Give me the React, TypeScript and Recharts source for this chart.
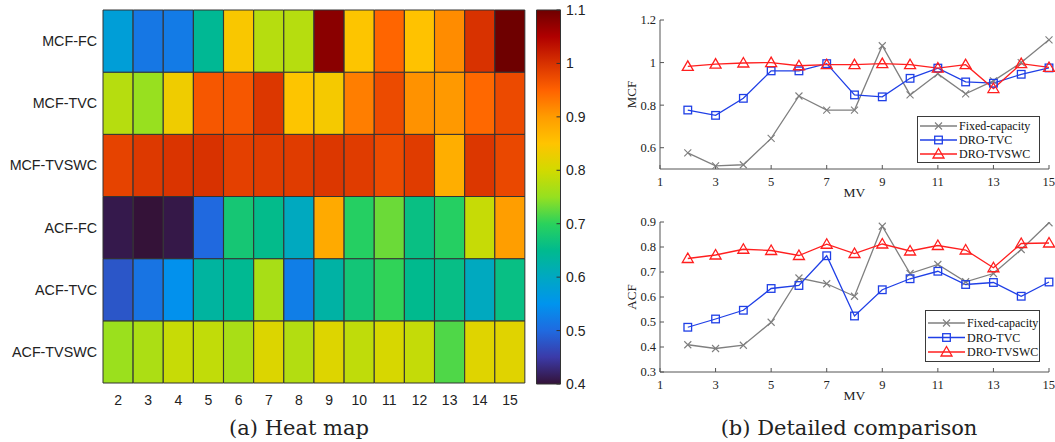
import React from 'react';
import { BarChart, Bar, Cell, XAxis, YAxis, LineChart, Line, Legend } from 'recharts';

// MV values (columns of the heat map, x of the line charts)
const mvValues = [2, 3, 4, 5, 6, 7, 8, 9, 10, 11, 12, 13, 14, 15];

// MCF
const mcfFixed = [0.576, 0.515, 0.52, 0.644, 0.843, 0.777, 0.777, 1.079, 0.848, 0.947, 0.853, 0.914, 1.0, 1.107];
const mcfTVC = [0.777, 0.752, 0.832, 0.961, 0.961, 0.995, 0.848, 0.839, 0.926, 0.974, 0.909, 0.903, 0.945, 0.975];
const mcfTVSWC = [0.982, 0.993, 0.998, 1.0, 0.985, 0.99, 0.99, 0.995, 0.99, 0.974, 0.99, 0.878, 0.995, 0.977];

// ACF
const acfFixed = [0.409, 0.394, 0.407, 0.499, 0.676, 0.653, 0.603, 0.883, 0.694, 0.73, 0.661, 0.694, 0.79, 0.897];
const acfTVC = [0.479, 0.512, 0.547, 0.634, 0.646, 0.765, 0.524, 0.629, 0.673, 0.703, 0.65, 0.658, 0.603, 0.66];
const acfTVSWC = [0.754, 0.768, 0.791, 0.786, 0.766, 0.811, 0.774, 0.812, 0.784, 0.806, 0.788, 0.717, 0.814, 0.816];

// heat map rows, top to bottom
const rowNames = ['MCF-FC', 'MCF-TVC', 'MCF-TVSWC', 'ACF-FC', 'ACF-TVC', 'ACF-TVSWC'];
const rowValues = [mcfFixed, mcfTVC, mcfTVSWC, acfFixed, acfTVC, acfTVSWC];

const colorLimits = [0.4, 1.1];
const colorTicks = [0.4, 0.5, 0.6, 0.7, 0.8, 0.9, 1.0, 1.1];

const xTicks = [1, 3, 5, 7, 9, 11, 13, 15];
const mcfTicks = [0.6, 0.8, 1, 1.2];
const acfTicks = [0.3, 0.4, 0.5, 0.6, 0.7, 0.8, 0.9];

const SERIES = [
  { key: 'fixed', name: 'Fixed-capacity', color: '#7f7f7f', marker: 'x' },
  { key: 'tvc', name: 'DRO-TVC', color: '#1f3fe6', marker: 'square' },
  { key: 'tvswc', name: 'DRO-TVSWC', color: '#ff1f1f', marker: 'triangle' },
];

// colour map sampled from the colour bar
const COLOR_STOPS: [number, string][] = [
  [0.4, '#341238'],
  [0.45, '#3b3aa8'],
  [0.5, '#1f6ae0'],
  [0.55, '#0094ee'],
  [0.6, '#00a8c2'],
  [0.65, '#00ba8e'],
  [0.7, '#2ad25c'],
  [0.75, '#96e020'],
  [0.8, '#d2da00'],
  [0.85, '#ffc400'],
  [0.9, '#ff9c00'],
  [0.95, '#ff6200'],
  [1.0, '#d83200'],
  [1.05, '#b00000'],
  [1.1, '#6e0000'],
];

function hexToRgb(h: string) {
  const n = parseInt(h.slice(1), 16);
  return [(n >> 16) & 255, (n >> 8) & 255, n & 255];
}

function colormap(v: number) {
  const c = Math.min(Math.max(v, COLOR_STOPS[0][0]), COLOR_STOPS[COLOR_STOPS.length - 1][0]);
  for (let i = 0; i < COLOR_STOPS.length - 1; i++) {
    const [a, ca] = COLOR_STOPS[i];
    const [b, cb] = COLOR_STOPS[i + 1];
    if (c <= b) {
      const t = (c - a) / (b - a);
      const A = hexToRgb(ca);
      const B = hexToRgb(cb);
      const m = A.map((x, k) => Math.round(x + (B[k] - x) * t));
      return `rgb(${m[0]},${m[1]},${m[2]})`;
    }
  }
  return COLOR_STOPS[COLOR_STOPS.length - 1][1];
}

const SANS = '"Liberation Sans", Arial, sans-serif';
const SERIF = '"Liberation Serif", "Times New Roman", serif';
const CAPTION = '"DejaVu Serif", serif';

// stacked unit cells, one per row
const heatData = mvValues.map((m) => {
  const row: Record<string, any> = { mv: String(m) };
  rowNames.forEach((_, r) => {
    row['u' + r] = 1;
  });
  return row;
});
const rowTicks = rowNames.map((_, i) => i + 0.5);

const colorbarData = [{ name: 'cb', range: colorLimits }];

const mcfData = mvValues.map((m, i) => ({ mv: m, fixed: mcfFixed[i], tvc: mcfTVC[i], tvswc: mcfTVSWC[i] }));
const acfData = mvValues.map((m, i) => ({ mv: m, fixed: acfFixed[i], tvc: acfTVC[i], tvswc: acfTVSWC[i] }));

function Marker({ cx, cy, kind, color }: { cx?: number; cy?: number; kind: string; color: string }) {
  if (cx == null || cy == null) return null;
  if (kind === 'x') {
    const s = 3.5;
    return (
      <path
        d={`M${cx - s},${cy - s}L${cx + s},${cy + s}M${cx - s},${cy + s}L${cx + s},${cy - s}`}
        stroke={color}
        strokeWidth={1.1}
        fill="none"
      />
    );
  }
  if (kind === 'square') {
    return <rect x={cx - 3.8} y={cy - 3.8} width={7.6} height={7.6} fill="none" stroke={color} strokeWidth={1.3} />;
  }
  return (
    <polygon
      points={`${cx},${cy - 5.5} ${cx - 5.5},${cy + 4} ${cx + 5.5},${cy + 4}`}
      fill="none"
      stroke={color}
      strokeWidth={1.3}
    />
  );
}

function LegendBox({ width, height, rowY }: { width: number; height: number; rowY: number[] }) {
  return (
    <svg width={width} height={height} style={{ display: 'block' }}>
      <rect x={0.5} y={0.5} width={width - 1} height={height - 1} fill="#fff" stroke="#3a3a3a" strokeWidth={1} />
      {SERIES.map((s, i) => (
        <g key={s.key}>
          <line x1={3} x2={40} y1={rowY[i]} y2={rowY[i]} stroke={s.color} strokeWidth={1.3} />
          <Marker cx={21.5} cy={rowY[i]} kind={s.marker} color={s.color} />
          <text x={42} y={rowY[i] + 4} fontSize={12} fontFamily={SERIF} fill="#111">
            {s.name}
          </text>
        </g>
      ))}
    </svg>
  );
}

interface PanelProps {
  data: any[];
  domain: [number, number];
  ticks: number[];
  yLabel: string;
  height: number;
  margin: { top: number; right: number; bottom: number; left: number };
  legend: { left: number; top: number; width: number; height: number; rowY: number[] };
}

function ComparisonPanel({ data, domain, ticks, yLabel, height, margin, legend }: PanelProps) {
  const tickStyle = { fill: '#222', fontSize: 12.5, fontFamily: SERIF };
  return (
    <LineChart width={455} height={height} data={data} margin={margin}>
      <XAxis
        xAxisId="b"
        dataKey="mv"
        type="number"
        domain={[1, 15]}
        ticks={xTicks}
        height={30}
        tickSize={-4}
        tickMargin={12}
        stroke="#555"
        tick={tickStyle}
        label={{ value: 'MV', position: 'insideBottom', offset: 2, fill: '#222', fontSize: 13.5, fontFamily: SERIF }}
      />
      <XAxis
        xAxisId="t"
        orientation="top"
        type="number"
        domain={[1, 15]}
        ticks={xTicks}
        height={0}
        tickSize={-4}
        tick={false}
        stroke="#555"
      />
      <YAxis
        yAxisId="l"
        type="number"
        domain={domain}
        ticks={ticks}
        width={60}
        tickSize={-4}
        tickMargin={8}
        stroke="#555"
        tick={tickStyle}
        allowDataOverflow
        label={{
          value: yLabel,
          angle: -90,
          position: 'insideLeft',
          offset: 31,
          fill: '#222',
          fontSize: 13,
          fontFamily: SERIF,
          style: { textAnchor: 'middle' },
        }}
      />
      <YAxis
        yAxisId="r"
        orientation="right"
        type="number"
        domain={domain}
        ticks={ticks}
        width={0}
        tickSize={-4}
        tick={false}
        stroke="#555"
      />
      {SERIES.map((s) => (
        <Line
          key={s.key}
          xAxisId="b"
          yAxisId="l"
          dataKey={s.key}
          name={s.name}
          stroke={s.color}
          strokeWidth={1.3}
          isAnimationActive={false}
          dot={(p: any) => <Marker key={`${s.key}-${p.index}`} cx={p.cx} cy={p.cy} kind={s.marker} color={s.color} />}
          activeDot={false}
        />
      ))}
      <Legend
        verticalAlign="middle"
        align="center"
        layout="horizontal"
        wrapperStyle={{ left: legend.left, top: legend.top, width: legend.width, height: legend.height }}
        content={() => <LegendBox width={legend.width} height={legend.height} rowY={legend.rowY} />}
      />
    </LineChart>
  );
}

const captionStyle: React.CSSProperties = {
  position: 'absolute',
  top: 414,
  textAlign: 'center',
  fontFamily: CAPTION,
  fontSize: 21,
  lineHeight: '28px',
  color: '#222',
};

export default function App() {
  return (
    <div style={{ position: 'absolute', left: 0, top: 0, width: 1055, height: 442, background: '#fff', overflow: 'hidden' }}>
      {/* (a) heat map */}
      <div style={{ position: 'absolute', left: 0, top: 0 }}>
        <BarChart
          width={530}
          height={420}
          data={heatData}
          margin={{ top: 10, right: 5, bottom: 17, left: 0 }}
          barCategoryGap={0}
          barGap={0}
        >
          <XAxis
            dataKey="mv"
            height={20}
            tickSize={0}
            tickMargin={12}
            axisLine={false}
            tickLine={false}
            tick={{ fill: '#222', fontSize: 14, fontFamily: SANS }}
          />
          <YAxis
            type="number"
            domain={[0, rowNames.length]}
            ticks={rowTicks}
            tickFormatter={(v: number) => rowNames[rowNames.length - 1 - Math.floor(v)]}
            width={103}
            tickSize={0}
            tickMargin={6}
            axisLine={false}
            tickLine={false}
            tick={{ fill: '#222', fontSize: 14.3, fontFamily: SANS }}
          />
          {rowNames
            .map((_, r) => rowNames.length - 1 - r)
            .map((r) => (
              <Bar key={rowNames[r]} dataKey={'u' + r} stackId="heat" isAnimationActive={false}>
                {mvValues.map((m, i) => (
                  <Cell key={m} fill={colormap(rowValues[r][i])} stroke="#333" strokeWidth={1} />
                ))}
              </Bar>
            ))}
        </BarChart>
      </div>

      {/* colour bar */}
      <div style={{ position: 'absolute', left: 530, top: 0 }}>
        <BarChart
          width={70}
          height={420}
          data={colorbarData}
          margin={{ top: 10, right: 0, bottom: 36, left: 6.5 }}
          barCategoryGap={0}
        >
          <defs>
            <linearGradient id="cbGrad" x1="0" y1="1" x2="0" y2="0">
              {COLOR_STOPS.map(([v, c]) => (
                <stop key={v} offset={(v - colorLimits[0]) / (colorLimits[1] - colorLimits[0])} stopColor={c} />
              ))}
            </linearGradient>
          </defs>
          <XAxis dataKey="name" hide />
          <YAxis
            orientation="right"
            type="number"
            domain={colorLimits}
            ticks={colorTicks}
            tickFormatter={(v: number) => String(+v.toFixed(1))}
            width={39.5}
            tickSize={-4}
            tickMargin={9.5}
            axisLine={false}
            stroke="#333"
            tick={{ fill: '#222', fontSize: 14, fontFamily: SANS }}
          />
          <Bar dataKey="range" fill="url(#cbGrad)" stroke="#333" strokeWidth={1} isAnimationActive={false} />
        </BarChart>
      </div>

      {/* (b) detailed comparison */}
      <div style={{ position: 'absolute', left: 600, top: 0 }}>
        <ComparisonPanel
          data={mcfData}
          domain={[0.5, 1.2]}
          ticks={mcfTicks}
          yLabel="MCF"
          height={210}
          margin={{ top: 20, right: 6, bottom: 11, left: 0 }}
          legend={{ left: 317, top: 116, width: 123, height: 47, rowY: [10, 24, 38] }}
        />
      </div>
      <div style={{ position: 'absolute', left: 600, top: 200 }}>
        <ComparisonPanel
          data={acfData}
          domain={[0.3, 0.9]}
          ticks={acfTicks}
          yLabel="ACF"
          height={242}
          margin={{ top: 22, right: 6, bottom: 40, left: 0 }}
          legend={{ left: 325, top: 110, width: 115, height: 52, rowY: [13, 27.5, 42] }}
        />
      </div>

      {/* captions */}
      <div style={{ ...captionStyle, left: 199, width: 200 }}>(a) Heat map</div>
      <div style={{ ...captionStyle, left: 699, width: 300 }}>(b) Detailed comparison</div>
    </div>
  );
}
